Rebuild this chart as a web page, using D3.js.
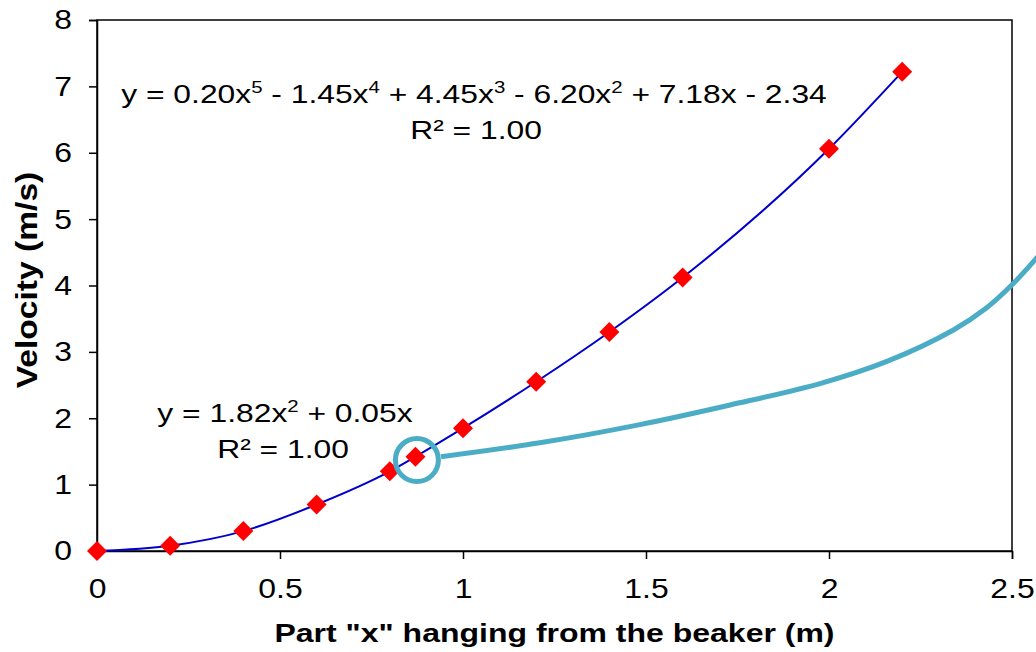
<!DOCTYPE html>
<html>
<head>
<meta charset="utf-8">
<script src="https://cdn.jsdelivr.net/npm/d3@7"></script>
<style>
  body { margin: 0; background: #fff; }
  svg { display: block; font-family: Arial, "Liberation Sans", sans-serif; }
</style>
</head>
<body>
<div id="chart"></div>
<script>
// datos
const partX = [0, 0.2, 0.4, 0.6, 0.8, 0.87, 1.0, 1.2, 1.4, 1.6, 2.0, 2.2];
const velocity = [0, 0.08, 0.3, 0.7, 1.2, 1.42, 1.85, 2.55, 3.3, 4.12, 6.06, 7.22];
const xTicks = [0, 0.5, 1, 1.5, 2, 2.5];
const yTicks = [0, 1, 2, 3, 4, 5, 6, 7, 8];
// linea de llamada (a mano)
const calloutX = [0.94, 1.21, 1.48, 1.73, 1.98, 2.16, 2.34, 2.43, 2.5, 2.57];
const calloutY = [1.42, 1.63, 1.9, 2.2, 2.53, 2.86, 3.33, 3.66, 4.01, 4.43];

const W = 1036, H = 652;
const SX = 1.14; // texto algo ensanchado como en el original
let margin = {top: 20, right: 24, bottom: 101, left: 97},
    width = W - margin.left - margin.right,
    height = H - margin.top - margin.bottom;

let svg = d3.select("#chart").append("svg")
    .attr("width", W).attr("height", H);
let g = svg.append("g")
    .attr("transform", "translate(" + margin.left + "," + margin.top + ")");

let x = d3.scaleLinear().domain([0, 2.5]).range([0, width]);
let y = d3.scaleLinear().domain([0, 8]).range([height, 0]);

// marco
g.append("rect")
    .attr("x", 0).attr("y", 0).attr("width", width).attr("height", height)
    .attr("fill", "none").attr("stroke", "#000").attr("stroke-width", 1.5);

let xAxis = g.append("g")
    .attr("transform", "translate(0," + height + ")")
    .call(d3.axisBottom(x).tickValues(xTicks).tickSize(8).tickPadding(19).tickFormat(d3.format("")));
let yAxis = g.append("g")
    .call(d3.axisLeft(y).tickValues(yTicks).tickSize(8).tickPadding(17).tickFormat(d3.format("d")));
[xAxis, yAxis].forEach(function(a) {
    a.select(".domain").attr("stroke", "#000").attr("stroke-width", 1.5);
    a.selectAll(".tick line").attr("stroke", "#000").attr("stroke-width", 1.5);
    a.selectAll("text").attr("font-size", 28).attr("fill", "#000")
        .attr("font-family", "Arial, 'Liberation Sans', sans-serif");
});
xAxis.selectAll(".tick text").attr("transform", "scale(" + SX + ",1)");
yAxis.selectAll(".tick text").attr("x", -25 / SX).attr("transform", "scale(" + SX + ",1)");

// titulos
svg.append("text")
    .attr("transform", "translate(" + (margin.left + width / 2) + ",642) scale(1.28,1)")
    .attr("text-anchor", "middle")
    .attr("font-size", 25).attr("font-weight", "bold")
    .text('Part "x" hanging from the beaker (m)');
svg.append("text")
    .attr("transform", "translate(37,280) rotate(-90) scale(1.12,1)")
    .attr("text-anchor", "middle")
    .attr("font-size", 30).attr("font-weight", "bold")
    .text("Velocity (m/s)");

// linea de tendencia
let pts = partX.map(function(d, i) { return [d, velocity[i]]; });
let line = d3.line()
    .x(function(d) { return x(d[0]); })
    .y(function(d) { return y(d[1]); })
    .curve(d3.curveMonotoneX);
g.append("path").datum(pts)
    .attr("d", line).attr("fill", "none")
    .attr("stroke", "#0000CC").attr("stroke-width", 2);

// marcadores
g.selectAll(".pt").data(pts).enter().append("path")
    .attr("class", "pt")
    .attr("d", d3.symbol().type(d3.symbolSquare).size(200))
    .attr("transform", function(d) { return "translate(" + x(d[0]) + "," + y(d[1]) + ") rotate(45)"; })
    .attr("fill", "#FF0000");

// circulo y linea de llamada
const TEAL = "#4BACC6";
g.append("circle")
    .attr("cx", x(0.874)).attr("cy", y(1.37)).attr("r", 21.5)
    .attr("fill", "none").attr("stroke", TEAL).attr("stroke-width", 5);
let cPts = calloutX.map(function(d, i) { return [d, calloutY[i]]; });
g.append("path").datum(cPts)
    .attr("d", d3.line().x(function(d) { return x(d[0]); }).y(function(d) { return y(d[1]); }).curve(d3.curveCatmullRom))
    .attr("fill", "none").attr("stroke", TEAL).attr("stroke-width", 5);

// ecuaciones
function equation(cx, yy, parts) {
    let t = svg.append("text")
        .attr("transform", "translate(" + cx + "," + yy + ") scale(1.2,1)")
        .attr("text-anchor", "middle").attr("font-size", 26.5).attr("fill", "#000");
    let raised = false;
    parts.forEach(function(p) {
        if (typeof p === "object") {
            t.append("tspan").attr("dy", -10).attr("font-size", 17).text(p.s);
            raised = true;
        } else {
            t.append("tspan").attr("dy", raised ? 10 : 0).text(p);
            raised = false;
        }
    });
}
equation(474, 103, ["y = 0.20x", {s: "5"}, " - 1.45x", {s: "4"}, " + 4.45x", {s: "3"},
    " - 6.20x", {s: "2"}, " + 7.18x - 2.34"]);
equation(476, 139, ["R² = 1.00"]);
equation(285, 422, ["y = 1.82x", {s: "2"}, " + 0.05x"]);
equation(283, 458, ["R² = 1.00"]);
</script>
</body>
</html>
